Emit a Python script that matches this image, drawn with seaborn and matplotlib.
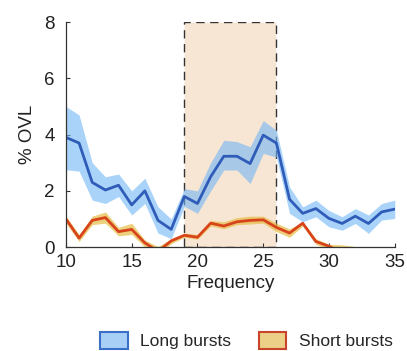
import matplotlib
matplotlib.use("Agg")
import matplotlib.pyplot as plt
import matplotlib.patches as mpatches
import numpy as np
import pandas as pd
import seaborn as sns

# frequencies (Hz)
freq = list(range(10, 36))

# long bursts: mean and band
long_mean = [3.9, 3.7, 2.3, 2.03, 2.2, 1.5, 2.0, 0.95, 0.63, 1.8, 1.55, 2.5, 3.23,
             3.23, 2.97, 3.98, 3.7, 1.7, 1.2, 1.37, 1.02, 0.84, 1.1, 0.84, 1.25, 1.35]
long_upper = [5.0, 4.7, 3.0, 2.5, 2.6, 2.0, 2.45, 1.43, 1.0, 2.08, 2.0, 3.0, 3.8,
              3.75, 3.57, 4.5, 4.15, 2.14, 1.43, 1.67, 1.3, 1.08, 1.37, 1.14, 1.55, 1.67]
long_lower = [2.75, 2.7, 1.67, 1.55, 1.8, 1.14, 1.55, 0.5, 0.3, 1.45, 1.2, 2.0, 2.74,
              2.74, 2.26, 3.33, 3.2, 1.2, 0.9, 1.08, 0.72, 0.6, 0.84, 0.49, 0.96, 1.02]

# short bursts: mean and band
short_mean = [1.0, 0.32, 0.95, 1.05, 0.55, 0.63, 0.15, -0.15, 0.22, 0.42, 0.35, 0.85, 0.75,
              0.9, 0.95, 0.97, 0.7, 0.5, 0.85, 0.2, 0.03, -0.2, -0.35, -0.4, -0.45, -0.5]
short_upper = [1.1, 0.45, 1.1, 1.25, 0.7, 0.85, 0.25, 0.02, 0.3, 0.5, 0.45, 0.95, 0.9,
               1.05, 1.1, 1.1, 0.85, 0.65, 0.9, 0.3, 0.1, 0.08, 0.02, -0.1, -0.15, -0.2]
short_lower = [0.85, 0.2, 0.8, 0.85, 0.4, 0.45, 0.0, -0.3, 0.12, 0.35, 0.28, 0.75, 0.65,
               0.8, 0.82, 0.85, 0.55, 0.35, 0.75, 0.1, -0.1, -0.3, -0.4, -0.6, -0.7, -0.8]

# highlighted frequency window
window = (19, 26)

df = pd.DataFrame({
    "freq": freq * 2,
    "val": long_mean + short_mean,
    "kind": ["Long bursts"] * len(freq) + ["Short bursts"] * len(freq),
})

sns.set_style("ticks")
plt.rcParams["font.family"] = ["Liberation Sans", "DejaVu Sans"]

fig = plt.figure(figsize=(4.07, 3.51), dpi=100)
ax = fig.add_axes([0.162, 0.296, 0.808, 0.641])

# shaded window
ax.add_patch(mpatches.Rectangle((window[0], 0), window[1] - window[0], 8,
                                facecolor="#f8e6d4", edgecolor="#333333",
                                linestyle=(0, (6, 4)), linewidth=1.0, zorder=0))

ax.fill_between(freq, long_lower, long_upper, color="#72b6f5", alpha=0.6,
                linewidth=0, zorder=1)
ax.fill_between(freq, short_lower, short_upper, color="#e6bc45", alpha=0.7,
                linewidth=0, zorder=1)

sns.lineplot(data=df, x="freq", y="val", hue="kind",
             palette={"Long bursts": "#2f5cb8", "Short bursts": "#d8431c"},
             linewidth=2.0, legend=False, ax=ax, zorder=2)

ax.set_xlim(10, 35)
ax.set_ylim(0, 8)
ax.set_xticks([10, 15, 20, 25, 30, 35])
ax.set_yticks([0, 2, 4, 6, 8])
ax.tick_params(direction="in", length=3, labelsize=13.5, color="#333333",
               labelcolor="#222222")
ax.tick_params(axis="x", pad=5)
ax.tick_params(axis="y", pad=8)
ax.set_xlabel("Frequency", fontsize=13.5, color="#222222", labelpad=3)
ax.set_ylabel("% OVL", fontsize=13.5, color="#222222", labelpad=6)
for s in ["left", "bottom"]:
    ax.spines[s].set_color("#333333")
    ax.spines[s].set_linewidth(0.9)
sns.despine(ax=ax)

handles = [
    mpatches.Patch(facecolor="#a8d0f6", edgecolor="#3a70c8", linewidth=1.5, label="Long bursts"),
    mpatches.Patch(facecolor="#ecd088", edgecolor="#c8442a", linewidth=1.5, label="Short bursts"),
]
fig.legend(handles=handles, loc="center", bbox_to_anchor=(0.605, 0.03), ncol=2,
           frameon=False, fontsize=12.5, handlelength=1.6, handleheight=1.2,
           columnspacing=1.6, handletextpad=0.7)

fig.savefig("out.png", dpi=100)
